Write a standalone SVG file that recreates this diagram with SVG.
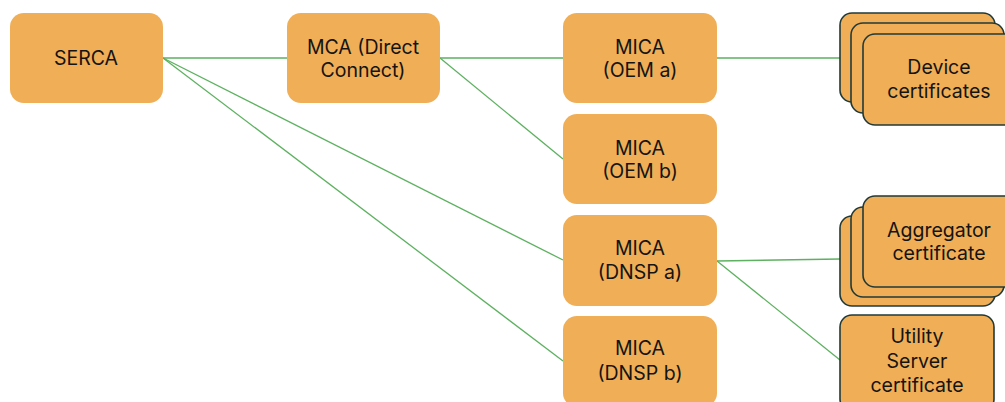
<svg xmlns="http://www.w3.org/2000/svg" width="1005" height="402" viewBox="0 0 1005 402">
  <style>
    .box { fill: #F0AE56; }
    .cert { fill: #F0AE56; stroke: #213A38; stroke-width: 1.6; }
    .lbl { font-family: Inter, "Noto Sans", sans-serif; font-size: 19.5px; fill: #141414; text-anchor: middle; }
    .link { stroke: #5DB160; stroke-width: 1.3; fill: none; }
  </style>
  <rect width="1005" height="402" fill="#ffffff"/>

  <!-- connectors -->
  <g id="connectors">
    <line class="link" x1="163" y1="58" x2="287" y2="58"/>
    <line class="link" x1="163" y1="58" x2="563" y2="260"/>
    <line class="link" x1="163" y1="58" x2="563" y2="361"/>
    <line class="link" x1="440" y1="58" x2="563" y2="58"/>
    <line class="link" x1="440" y1="58" x2="563" y2="159"/>
    <line class="link" x1="717" y1="58" x2="840" y2="58"/>
    <line class="link" x1="717" y1="261" x2="840" y2="259"/>
    <line class="link" x1="717" y1="261" x2="840" y2="360"/>
  </g>

  <g id="serca">
    <rect class="box" x="10" y="13" width="153" height="90" rx="14"/>
    <text class="lbl" x="86" y="65">SERCA</text>
  </g>

  <g id="mca-direct">
    <rect class="box" x="287" y="13" width="153" height="90" rx="14"/>
    <text class="lbl" x="363" y="54">MCA (Direct</text>
    <text class="lbl" x="363" y="77">Connect)</text>
  </g>

  <g id="mica-oem-a">
    <rect class="box" x="563" y="13" width="154" height="90" rx="14"/>
    <text class="lbl" x="640" y="54">MICA</text>
    <text class="lbl" x="640" y="77">(OEM a)</text>
  </g>

  <g id="mica-oem-b">
    <rect class="box" x="563" y="114" width="154" height="90" rx="14"/>
    <text class="lbl" x="640" y="155">MICA</text>
    <text class="lbl" x="640" y="178">(OEM b)</text>
  </g>

  <g id="mica-dnsp-a">
    <rect class="box" x="563" y="215" width="154" height="91" rx="14"/>
    <text class="lbl" x="640" y="255">MICA</text>
    <text class="lbl" x="640" y="279">(DNSP a)</text>
  </g>

  <g id="mica-dnsp-b">
    <rect class="box" x="563" y="316" width="154" height="91" rx="14"/>
    <text class="lbl" x="640" y="355">MICA</text>
    <text class="lbl" x="640" y="380">(DNSP b)</text>
  </g>

  <g id="device-certificates">
    <rect class="cert" x="840" y="13" width="155" height="89" rx="12"/>
    <rect class="cert" x="851" y="23" width="153" height="90" rx="12"/>
    <rect class="cert" x="863" y="34" width="155" height="91" rx="12"/>
    <text class="lbl" x="939" y="74">Device</text>
    <text class="lbl" x="939" y="98">certificates</text>
  </g>

  <g id="aggregator-certificate">
    <rect class="cert" x="840" y="216" width="155" height="90" rx="12"/>
    <rect class="cert" x="851" y="207" width="153" height="90" rx="12"/>
    <rect class="cert" x="863" y="196" width="155" height="91" rx="12"/>
    <text class="lbl" x="939" y="237">Aggregator</text>
    <text class="lbl" x="939" y="260">certificate</text>
  </g>

  <g id="utility-server-certificate">
    <rect class="cert" x="840" y="315" width="154" height="96" rx="12"/>
    <text class="lbl" x="917" y="343">Utility</text>
    <text class="lbl" x="917" y="368">Server</text>
    <text class="lbl" x="917" y="392">certificate</text>
  </g>
</svg>
